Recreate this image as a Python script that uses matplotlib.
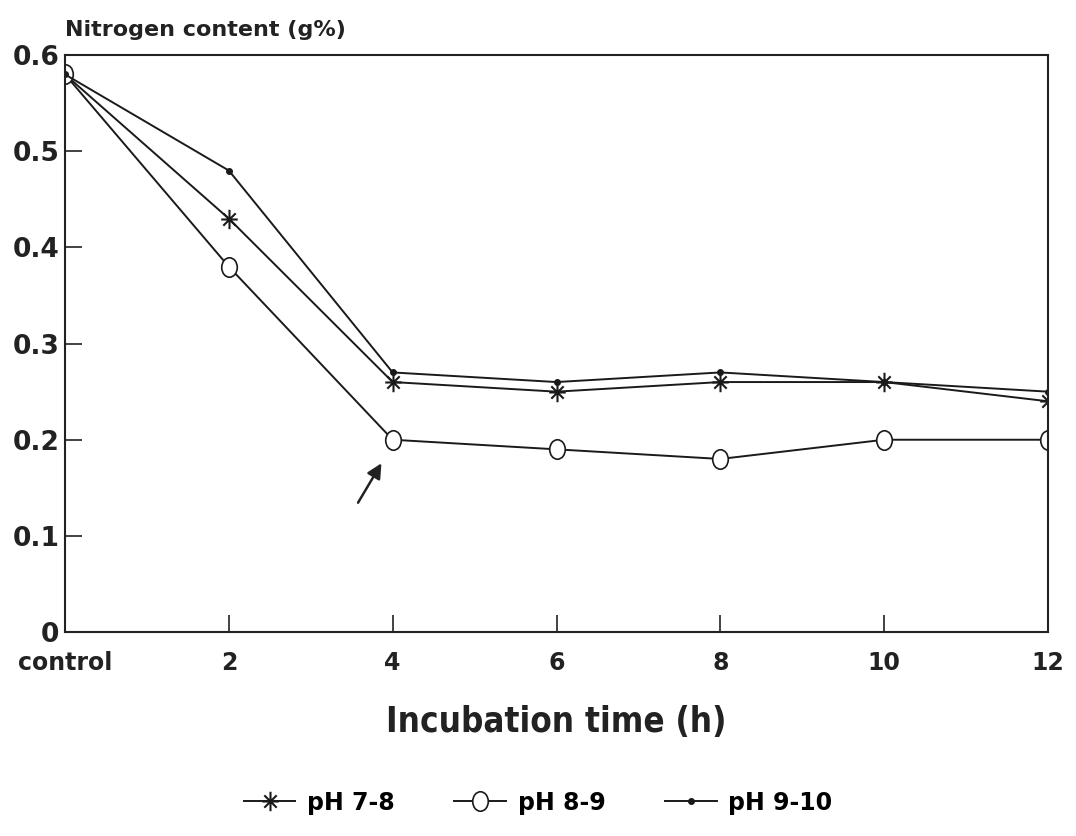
import matplotlib
matplotlib.use("Agg")
import matplotlib.pyplot as plt
from matplotlib.path import Path
from matplotlib import font_manager
import numpy as np

categories = ["control", "2", "4", "6", "8", "10", "12"]
ph78 = [0.58, 0.43, 0.26, 0.25, 0.26, 0.26, 0.24]
ph89 = [0.58, 0.38, 0.20, 0.19, 0.18, 0.20, 0.20]
ph910 = [0.58, 0.48, 0.27, 0.26, 0.27, 0.26, 0.25]
yticks = [0, 0.1, 0.2, 0.3, 0.4, 0.5, 0.6]
ytick_labels = ["0", "0.1", "0.2", "0.3", "0.4", "0.5", "0.6"]

plt.rcParams['font.family'] = ['DejaVu Sans']
fig = plt.figure(figsize=(10.76, 8.36), dpi=100)
ax = fig.add_axes([0.0604, 0.244, 0.9136, 0.690])
x = list(range(len(categories)))

c = '#1a1a1a'
ellipse = Path.unit_circle()
ellipse = Path(ellipse.vertices * np.array([0.8, 1.0]), ellipse.codes)

# 8-armed asterisk marker
verts, codes = [], []
for ang, r in [(90, 1.0), (0, 0.85), (45, 0.9), (135, 0.9)]:
    a = np.deg2rad(ang)
    verts += [(-r * np.cos(a), -r * np.sin(a)), (r * np.cos(a), r * np.sin(a))]
    codes += [Path.MOVETO, Path.LINETO]
star = Path(verts, codes)

l1, = ax.plot(x, ph78, color=c, lw=1.4, marker=star, ms=14, mew=1.5, fillstyle='none', label='pH 7-8')
l2, = ax.plot(x, ph89, color=c, lw=1.4, marker=ellipse, ms=14, mfc='white', mew=1.2, label='pH 8-9')
l3, = ax.plot(x, ph910, color=c, lw=1.4, marker='o', ms=4, label='pH 9-10')

ax.set_xlim(0, 6)
ax.set_ylim(0, 0.6)
ax.set_xticks(x)
ax.set_xticklabels(categories, fontsize=17, fontweight='bold', color='#222222')
ax.set_yticks(yticks)
ax.set_yticklabels(ytick_labels, fontsize=19, fontweight='bold', color='#222222')
ax.tick_params(axis='both', direction='in', length=12, width=1.2, color='#222222')
ax.tick_params(axis='x', pad=14)
ax.tick_params(axis='y', pad=4)
for s in ax.spines.values():
    s.set_linewidth(1.5)
    s.set_color('#222222')

fig.text(0.0604, 0.952, "Nitrogen content (g%)", fontsize=16, fontweight='bold', color='#222222', ha='left', va='bottom')

fp = font_manager.FontProperties(family='DejaVu Sans', stretch='condensed', weight='bold')
fpath = font_manager.findfont(fp, fallback_to_default=True)
if 'Condensed' in fpath:
    ax.set_xlabel("Incubation time (h)", fontsize=25, fontweight='bold', fontstretch='condensed',
                  color='#222222', labelpad=21)
else:
    ax.set_xlabel("Incubation time (h)", fontsize=23, fontweight='bold', color='#222222', labelpad=21)

ax.annotate("", xy=(1.94, 0.178), xytext=(1.78, 0.132),
            arrowprops=dict(arrowstyle='-|>', color='#222222', lw=1.8, mutation_scale=22))

fig.legend(handles=[l1, l2, l3], loc='lower center', bbox_to_anchor=(0.5, 0.0), ncol=3,
           frameon=False, prop={'weight': 'bold', 'size': 17},
           handlelength=2.2, columnspacing=2.5, handletextpad=0.5)

fig.savefig("out.png", dpi=100, facecolor='white')
